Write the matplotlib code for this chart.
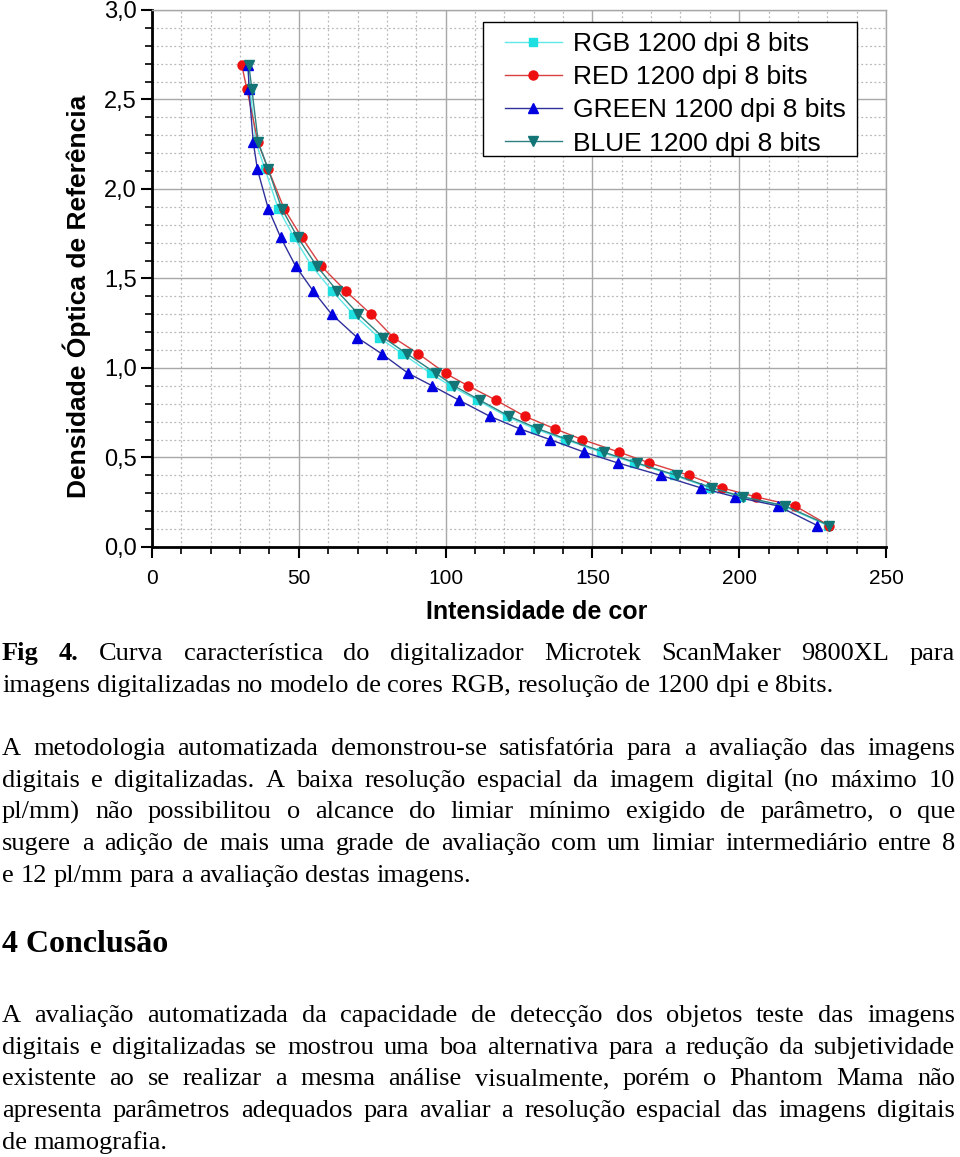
import matplotlib
matplotlib.use("Agg")
import matplotlib.pyplot as plt
from matplotlib.patches import Rectangle
from matplotlib.ticker import MultipleLocator, FuncFormatter

# densidades de referencia (mesmos degraus para as quatro curvas)
densidade = [2.69, 2.56, 2.26, 2.11, 1.89, 1.73, 1.57, 1.43, 1.30, 1.17, 1.08, 0.97,
             0.90, 0.82, 0.73, 0.66, 0.60, 0.53, 0.47, 0.40, 0.33, 0.28, 0.23, 0.12]

rgb = [32.4, 33.4, 35.4, 38.5, 43.0, 48.4, 54.4, 61.4, 68.6, 77.3, 85.3, 94.9,
       101.7, 110.8, 120.8, 130.4, 140.7, 152.9, 164.2, 177.8, 190.0, 200.6, 214.9, 230.2]
red = [30.6, 32.3, 36.1, 39.6, 45.0, 51.0, 57.6, 66.0, 74.6, 82.2, 90.7, 100.0,
       107.7, 117.2, 127.0, 137.3, 146.6, 159.1, 169.4, 183.0, 194.2, 205.7, 219.0, 230.6]
green = [32.8, 33.0, 34.5, 35.9, 39.6, 43.8, 48.9, 54.9, 61.2, 69.9, 78.2, 87.3,
         95.5, 104.6, 115.1, 125.3, 135.6, 147.2, 158.6, 173.3, 187.0, 198.6, 213.1, 226.6]
blue = [33.0, 34.0, 36.2, 39.6, 44.2, 49.6, 56.1, 63.1, 70.3, 78.8, 86.8, 96.7,
        102.9, 111.7, 121.7, 131.6, 141.6, 153.9, 165.1, 178.7, 190.8, 201.4, 215.6, 230.7]

nomes = ["RGB 1200 dpi 8 bits", "RED 1200 dpi 8 bits",
         "GREEN 1200 dpi 8 bits", "BLUE 1200 dpi 8 bits"]

legenda_fig = [
    [("Fig", True), ("4.", True)] + [(w, False) for w in
     "Curva característica do digitalizador Microtek ScanMaker 9800XL para".split()],
    [(w, False) for w in
     "imagens digitalizadas no modelo de cores RGB, resolução de 1200 dpi e 8bits.".split()],
]
paragrafo1 = [
    "A metodologia automatizada demonstrou-se satisfatória para a avaliação das imagens",
    "digitais e digitalizadas. A baixa resolução espacial da imagem digital (no máximo 10",
    "pl/mm) não possibilitou o alcance do limiar mínimo exigido de parâmetro, o que",
    "sugere a adição de mais uma grade de avaliação com um limiar intermediário entre 8",
    "e 12 pl/mm para a avaliação destas imagens.",
]
titulo = "4 Conclusão"
paragrafo2 = [
    "A avaliação automatizada da capacidade de detecção dos objetos teste das imagens",
    "digitais e digitalizadas se mostrou uma boa alternativa para a redução da subjetividade",
    "existente ao se realizar a mesma análise visualmente, porém o Phantom Mama não",
    "apresenta parâmetros adequados para avaliar a resolução espacial das imagens digitais",
    "de mamografia.",
]

W, H = 960, 1157
fig = plt.figure(figsize=(W / 100, H / 100), dpi=100)
fig.patch.set_facecolor("white")

ax = fig.add_axes([152 / W, 1 - 547 / H, (886 - 152) / W, (547 - 10) / H])

ax.plot(rgb, densidade, color="#5ee8e8", lw=1.0, marker="s", ms=6,
        mfc="#1ee0e0", mec="#1ee0e0", label=nomes[0])
ax.plot(red, densidade, color="#d84040", lw=1.0, marker="o", ms=6.5,
        mfc="#ee1010", mec="#ee1010", label=nomes[1])
ax.plot(green, densidade, color="#30309a", lw=1.0, marker="^", ms=7.5,
        mfc="#0000e0", mec="#0000e0", label=nomes[2])
ax.plot(blue, densidade, color="#2e8080", lw=1.0, marker="v", ms=7.5,
        mfc="#137575", mec="#137575", label=nomes[3])

ax.set_xlim(0, 250)
ax.set_ylim(0, 3.0)
ax.xaxis.set_major_locator(MultipleLocator(50))
ax.xaxis.set_minor_locator(MultipleLocator(10))
ax.yaxis.set_major_locator(MultipleLocator(0.5))
ax.yaxis.set_minor_locator(MultipleLocator(0.1))
ax.yaxis.set_major_formatter(FuncFormatter(lambda v, p: f"{v:.1f}".replace(".", ",")))

ax.grid(which="major", color="#a8a8a8", lw=1.0, ls="-")
ax.grid(which="minor", color="#b8b8b8", lw=0.9, ls=(0, (1.5, 2)))
ax.set_axisbelow(True)

for s in ["top", "right"]:
    ax.spines[s].set_color("#a8a8a8")
    ax.spines[s].set_linewidth(1.0)
for s in ["left", "bottom"]:
    ax.spines[s].set_color("black")
    ax.spines[s].set_linewidth(2.0)

ax.tick_params(which="major", direction="out", length=8, width=1.5, color="black")
ax.tick_params(which="minor", direction="out", length=5, width=1.2, color="black")
ax.tick_params(axis="y", labelsize=17, pad=3)
ax.tick_params(axis="x", labelsize=15, pad=8)
for lab in ax.get_xticklabels() + ax.get_yticklabels():
    lab.set_family("Liberation Sans")

ax.set_xlabel("Intensidade de cor", fontsize=18, fontweight="bold",
              family="Liberation Sans")
ax.xaxis.set_label_coords((537 - 152) / 734, -(600 - 547) / 537)
ax.set_ylabel("Densidade Óptica de Referência", fontsize=19, fontweight="bold",
              family="Liberation Sans")
ax.yaxis.set_label_coords(-(152 - 91) / 734, (547 - 296) / 537)

# caixa da legenda desenhada a parte, legenda sem moldura por cima
caixa = Rectangle((483 / W, 1 - 156 / H), (857 - 483) / W, (156 - 22) / H,
                  transform=fig.transFigure, facecolor="white", edgecolor="black",
                  lw=1.0, zorder=4, clip_on=False)
ax.add_artist(caixa)
leg = ax.legend(loc="upper left", bbox_to_anchor=((505 - 152) / 734, (547 - 32) / 537),
                borderaxespad=0, borderpad=0, frameon=False,
                prop={"family": "Liberation Sans", "size": 19},
                handlelength=2.15, handletextpad=0.42, labelspacing=0.35)
leg.set_zorder(5)

# texto justificado abaixo do grafico
renderer = fig.canvas.get_renderer()
X0, X1 = 2, 955


def linha(pecas, base_px, tam, justificar):
    objs = []
    for palavra, negrito in pecas:
        t = fig.text(0, 1 - base_px / H, palavra, fontsize=tam, family="Liberation Serif",
                     fontweight="bold" if negrito else "normal", va="baseline", ha="left")
        objs.append(t)
    larg = [t.get_window_extent(renderer).width for t in objs]
    gap = 0.25 * tam * 100 / 72
    if justificar and len(objs) > 1:
        gap = (X1 - X0 - sum(larg)) / (len(objs) - 1)
    x = X0
    for t, w in zip(objs, larg):
        t.set_x(x / W)
        x += w + gap


def paragrafo(linhas, base0, passo, tam):
    for i, texto in enumerate(linhas):
        pecas = texto if isinstance(texto, list) else [(w, False) for w in texto.split()]
        linha(pecas, base0 + i * passo, tam, i < len(linhas) - 1)


paragrafo(legenda_fig, 660, 31.7, 19)
paragrafo(paragrafo1, 755, 31.7, 19)
fig.text(X0 / W, 1 - 951.7 / H, titulo, fontsize=23, fontweight="bold",
         family="Liberation Serif", va="baseline", ha="left")
paragrafo(paragrafo2, 1022, 31.7, 19)

fig.savefig("out.png", dpi=100, facecolor="white")
